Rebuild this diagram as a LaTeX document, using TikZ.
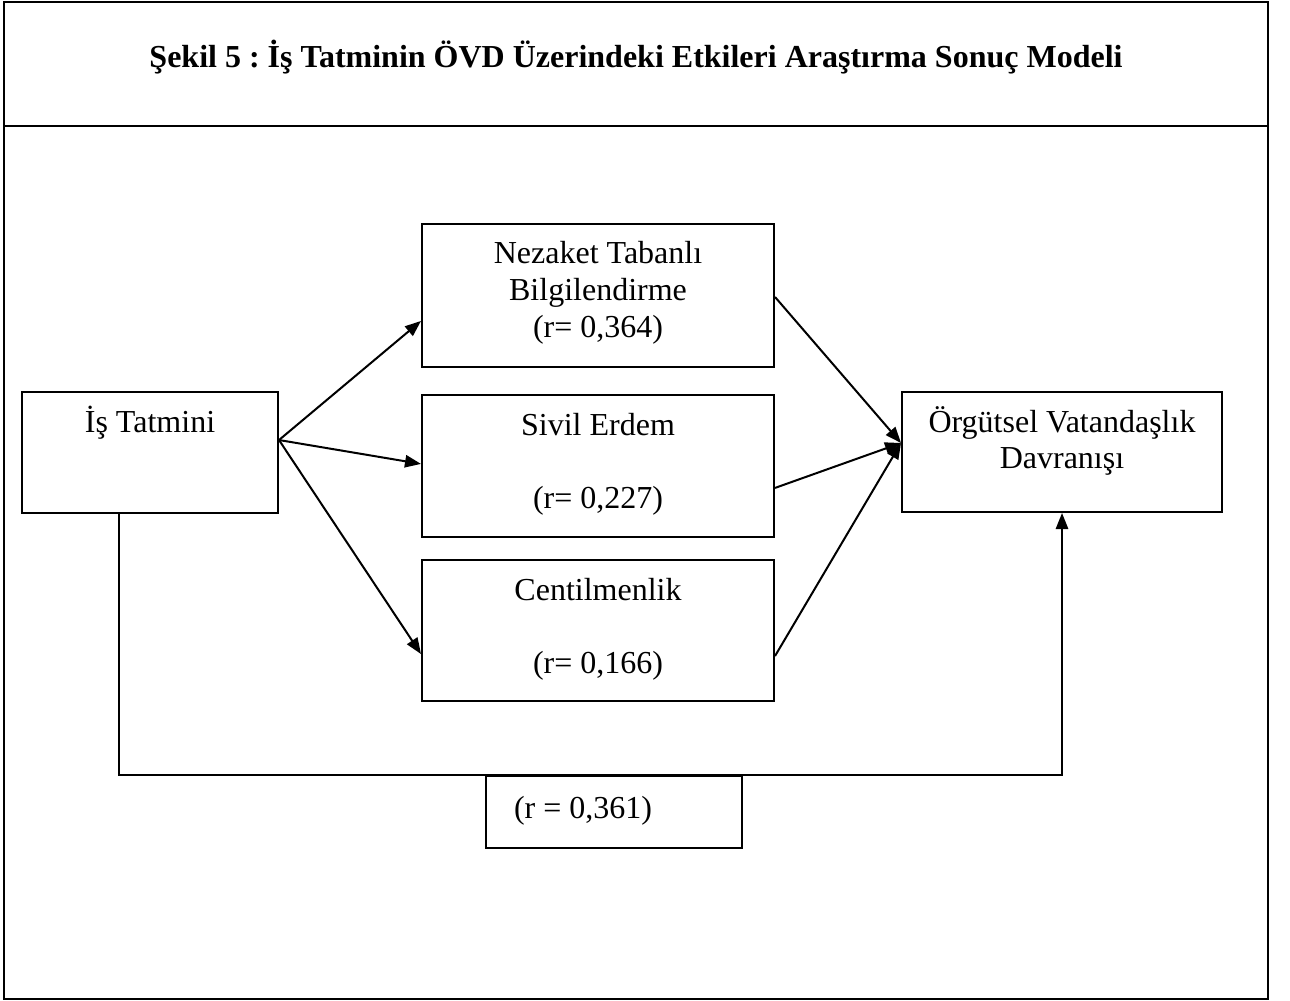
\documentclass[tikz,border=0pt]{standalone}
\usepackage{fontspec}
\setmainfont{Liberation Serif}
\usetikzlibrary{arrows.meta,calc}
\frenchspacing

\begin{document}
\begin{tikzpicture}
    [   x = 0.375pt
    ,   y = -0.375pt
    ,   > = {Triangle[length=6pt,width=4.6pt]}
    ,   font = \fontsize{12}{13.8}\selectfont
    ,   frame/.style = {line width = 1.1pt}
    ,   box/.style =
        {   draw
        ,   line width = 0.75pt
        ,   anchor = north west
        ,   inner sep = 0pt
        ,   align = flush center
        ,   text height = 15pt
        }
    ,   link/.style = {line width = 0.75pt}
    ]
    \useasboundingbox (0,0) rectangle (1290,1001);
    \draw[frame] (4,2) rectangle (1268,999);
    \draw[frame] (4,126) -- (1268,126);
    \node[font=\fontsize{12}{13.8}\selectfont\bfseries] (title) at (636,57)
        {Şekil 5 : İş Tatminin ÖVD Üzerindeki Etkileri Araştırma Sonuç Modeli};

    \node[box, text width=96pt,  text depth=30.4pt] (IT)  at (21,391)  {İş Tatmini};
    \node[box, text width=132pt, text depth=38.6pt] (NTB) at (421,223) {Nezaket Tabanlı\\Bilgilendirme\\(r= 0,364)};
    \node[box, text width=132pt, text depth=38.2pt] (SE)  at (421,394) {Sivil Erdem\\[13.8pt](r= 0,227)};
    \node[box, text width=132pt, text depth=37.9pt] (CM)  at (421,559) {Centilmenlik\\[13.8pt](r= 0,166)};
    \node[box, text width=120pt, text depth=30pt]   (OVD) at (901,391) {Örgütsel Vatandaşlık\\Davranışı};
    \node[box, text width=96pt,  text depth=11.2pt, text height=15.8pt, align=flush left] (RB) at (485,775)
        {\hspace*{10.5pt}(r = 0,361)};

    \coordinate (src) at ($(IT.east)+(0,-12.5)$);
    \coordinate (dst) at ($(OVD.west)+(0,-9)$);
    \foreach\n/\dy in {NTB/25.5,SE/-2,CM/23.5}
    {   \draw[link,->] (src) -- ($(\n.west)+(0,\dy)$);
    }
    \foreach\n/\dy in {NTB/1.5,SE/22,CM/25.5}
    {   \draw[link,->] ($(\n.east)+(0,\dy)$) -- (dst);
    }
    \draw[link,->] ($(IT.south)+(-31,0)$) |- (RB.north) -| (OVD.south);

\end{tikzpicture}
\end{document}
